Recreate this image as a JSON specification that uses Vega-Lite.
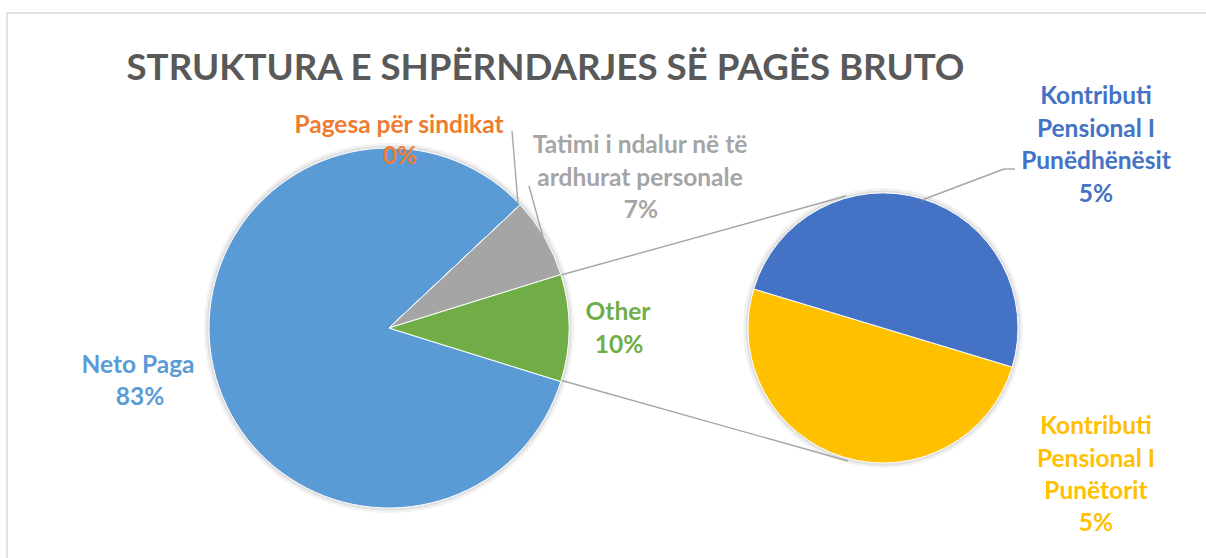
{
  "$schema": "https://vega.github.io/schema/vega-lite/v6.json",
  "width": 1201,
  "height": 547,
  "autosize": {"type": "none"},
  "padding": {"left": 7, "top": 13, "right": -2, "bottom": -2},
  "background": "white",
  "config": {
    "view": {"stroke": "#D9D9D9", "strokeWidth": 1.5},
    "font": "Lato",
    "text": {"font": "Lato", "fontWeight": "bold", "fontSize": 24.5, "lineHeight": 32.7, "lineBreak": "\n", "align": "center", "baseline": "middle"}
  },
  "title": {
    "text": "STRUKTURA E SHPËRNDARJES SË PAGËS BRUTO",
    "font": "Lato",
    "fontSize": 36.7,
    "fontWeight": "bold",
    "color": "#595959",
    "anchor": "middle",
    "frame": "group",
    "orient": "top",
    "baseline": "alphabetic",
    "offset": -104,
    "dx": -62
  },
  "datasets": {
    "slices": [
      {"slice": "Neto Paga", "value": 0.832, "pie": "main", "ord": 1},
      {"slice": "Pagesa për sindikat", "value": 0, "pie": "main", "ord": 2},
      {"slice": "Tatimi i ndalur në të\nardhurat personale", "value": 0.072, "pie": "main", "ord": 3},
      {"slice": "Other", "value": 0.096, "pie": "main", "ord": 4},
      {"slice": "Kontributi\nPensional I\nPunëtorit", "value": 0.048, "pie": "second", "ord": 5},
      {"slice": "Kontributi\nPensional I\nPunëdhënësit", "value": 0.048, "pie": "second", "ord": 6}
    ]
  },
  "data": {"name": "slices"},
  "encoding": {
    "x": {"field": "pie", "type": "nominal", "scale": {"type": "point", "domain": ["main", "second"], "padding": 0.7156, "align": 0.5403}, "axis": null},
    "y": {"datum": "c", "type": "nominal", "scale": {"type": "point", "domain": ["c"], "align": 0.5759}, "axis": null},
    "color": {
      "field": "slice", "type": "nominal", "legend": null,
      "scale": {
        "domain": ["Neto Paga", "Pagesa për sindikat", "Tatimi i ndalur në të\nardhurat personale", "Other", "Kontributi\nPensional I\nPunëtorit", "Kontributi\nPensional I\nPunëdhënësit"],
        "range": ["#5B9BD5", "#ED7D31", "#A5A5A5", "#70AD47", "#FFC000", "#4472C4"]
      }
    }
  },
  "layer": [
    {
      "transform": [{"filter": "datum.pie === 'main'"}],
      "mark": {"type": "arc", "radius": 185, "opacity": 0.05},
      "encoding": {"theta": {"field": "value", "type": "quantitative", "stack": true}, "color": {"value": "#000000"}}
    },
    {
      "transform": [{"filter": "datum.pie === 'main'"}],
      "mark": {"type": "arc", "radius": 182.5, "opacity": 0.07},
      "encoding": {"theta": {"field": "value", "type": "quantitative", "stack": true}, "color": {"value": "#000000"}}
    },
    {
      "transform": [{"filter": "datum.pie === 'second'"}],
      "mark": {"type": "arc", "radius": 140, "opacity": 0.05},
      "encoding": {"theta": {"field": "value", "type": "quantitative", "stack": true}, "color": {"value": "#000000"}}
    },
    {
      "transform": [{"filter": "datum.pie === 'second'"}],
      "mark": {"type": "arc", "radius": 137.5, "opacity": 0.07},
      "encoding": {"theta": {"field": "value", "type": "quantitative", "stack": true}, "color": {"value": "#000000"}}
    },
    {
      "data": {"values": [{}]},
      "mark": {"type": "rule", "strokeWidth": 1.4, "xOffset": 172, "yOffset": -53, "x2Offset": -37, "y2Offset": -132},
      "encoding": {"x": {"datum": "main", "type": "nominal"}, "x2": {"datum": "second"}, "y": {"datum": "c", "type": "nominal"}, "y2": {"datum": "c"}, "color": {"value": "#A6A6A6"}}
    },
    {
      "data": {"values": [{}]},
      "mark": {"type": "rule", "strokeWidth": 1.4, "xOffset": 171, "yOffset": 52, "x2Offset": -35, "y2Offset": 133},
      "encoding": {"x": {"datum": "main", "type": "nominal"}, "x2": {"datum": "second"}, "y": {"datum": "c", "type": "nominal"}, "y2": {"datum": "c"}, "color": {"value": "#A6A6A6"}}
    },
    {
      "transform": [{"filter": "datum.pie === 'main'"}],
      "mark": {"type": "arc", "radius": 180, "stroke": "#FFFFFF", "strokeWidth": 1},
      "encoding": {
        "theta": {"field": "value", "type": "quantitative", "stack": true, "scale": {"range": [1.8727, 8.1559]}},
        "order": {"field": "ord", "type": "quantitative"}
      }
    },
    {
      "transform": [{"filter": "datum.pie === 'second'"}],
      "mark": {"type": "arc", "radius": 135, "stroke": "#FFFFFF", "strokeWidth": 1},
      "encoding": {
        "theta": {"field": "value", "type": "quantitative", "stack": true, "scale": {"range": [1.864, 8.1472]}},
        "order": {"field": "ord", "type": "quantitative"}
      }
    },
    {
      "data": {"values": [{}]},
      "mark": {"type": "rule", "strokeWidth": 1.4, "xOffset": 123, "yOffset": -197, "x2Offset": 129, "y2Offset": -125},
      "encoding": {"x": {"datum": "main", "type": "nominal"}, "x2": {"datum": "main"}, "y": {"datum": "c", "type": "nominal"}, "y2": {"datum": "c"}, "color": {"value": "#A6A6A6"}}
    },
    {
      "data": {"values": [{}]},
      "mark": {"type": "rule", "strokeWidth": 1.4, "xOffset": 140, "yOffset": -142, "x2Offset": 154, "y2Offset": -91},
      "encoding": {"x": {"datum": "main", "type": "nominal"}, "x2": {"datum": "main"}, "y": {"datum": "c", "type": "nominal"}, "y2": {"datum": "c"}, "color": {"value": "#A6A6A6"}}
    },
    {
      "data": {"values": [{}]},
      "mark": {"type": "rule", "strokeWidth": 1.4, "xOffset": 39, "yOffset": -128, "x2Offset": 121, "y2Offset": -159},
      "encoding": {"x": {"datum": "second", "type": "nominal"}, "x2": {"datum": "second"}, "y": {"datum": "c", "type": "nominal"}, "y2": {"datum": "c"}, "color": {"value": "#A6A6A6"}}
    },
    {
      "data": {"values": [{}]},
      "mark": {"type": "rule", "strokeWidth": 1.4, "xOffset": 121, "yOffset": -159, "x2Offset": 132, "y2Offset": -159},
      "encoding": {"x": {"datum": "second", "type": "nominal"}, "x2": {"datum": "second"}, "y": {"datum": "c", "type": "nominal"}, "y2": {"datum": "c"}, "color": {"value": "#A6A6A6"}}
    },
    {
      "transform": [{"filter": "datum.ord === 1"}],
      "layer": [
        {"mark": {"type": "text", "dx": -251, "dy": 38}, "encoding": {"text": {"field": "slice"}}},
        {"mark": {"type": "text", "dx": -249, "dy": 70}, "encoding": {"text": {"field": "value", "format": ".0%"}}}
      ]
    },
    {
      "transform": [{"filter": "datum.ord === 2"}],
      "layer": [
        {"mark": {"type": "text", "dx": 10, "dy": -202}, "encoding": {"text": {"field": "slice"}}},
        {"mark": {"type": "text", "dx": 11, "dy": -171}, "encoding": {"text": {"field": "value", "format": ".0%"}}}
      ]
    },
    {
      "transform": [{"filter": "datum.ord === 3"}],
      "layer": [
        {"mark": {"type": "text", "dx": 251, "dy": -182}, "encoding": {"text": {"field": "slice"}}},
        {"mark": {"type": "text", "dx": 252, "dy": -117}, "encoding": {"text": {"field": "value", "format": ".0%"}}}
      ]
    },
    {
      "transform": [{"filter": "datum.ord === 4"}],
      "layer": [
        {"mark": {"type": "text", "dx": 229, "dy": -15}, "encoding": {"text": {"field": "slice"}}},
        {"mark": {"type": "text", "dx": 230, "dy": 18}, "encoding": {"text": {"field": "value", "format": ".0%"}}}
      ]
    },
    {
      "transform": [{"filter": "datum.ord === 5"}],
      "layer": [
        {"mark": {"type": "text", "dx": 213, "dy": 99}, "encoding": {"text": {"field": "slice"}}},
        {"mark": {"type": "text", "dx": 213, "dy": 196}, "encoding": {"text": {"field": "value", "format": ".0%"}}}
      ]
    },
    {
      "transform": [{"filter": "datum.ord === 6"}],
      "layer": [
        {"mark": {"type": "text", "dx": 213, "dy": -231}, "encoding": {"text": {"field": "slice"}}},
        {"mark": {"type": "text", "dx": 213, "dy": -133}, "encoding": {"text": {"field": "value", "format": ".0%"}}}
      ]
    }
  ],
  "resolve": {"scale": {"theta": "independent"}}
}
